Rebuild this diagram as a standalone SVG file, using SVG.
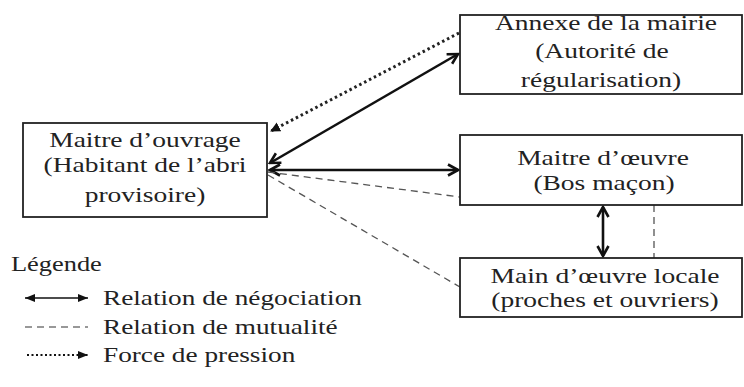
<svg xmlns="http://www.w3.org/2000/svg" width="744" height="387" viewBox="0 0 744 387">
<style>
  .box { fill: #fff; stroke: #222; stroke-width: 1.8; }
  .neg { stroke: #111; stroke-width: 2.6; fill: none; }
  .mut { stroke: #555; stroke-width: 1.3; stroke-dasharray: 7 5; fill: none; }
  .prs { stroke: #222; stroke-width: 3; stroke-dasharray: 2.5 3; fill: none; }
</style>
<defs>
  <marker id="chev" viewBox="0 0 14 14" refX="12" refY="7" markerWidth="14" markerHeight="14" markerUnits="userSpaceOnUse" orient="auto-start-reverse">
    <path d="M2,1.5 L12,7 L2,12.5" fill="none" stroke="#111" stroke-width="2.6"/>
  </marker>
  <marker id="tri" viewBox="0 0 10 8" refX="10" refY="4" markerWidth="10" markerHeight="8" markerUnits="userSpaceOnUse" orient="auto-start-reverse">
    <path d="M0,0 L10,4 L0,8 Z" fill="#111"/>
  </marker>
  <marker id="tri2" viewBox="0 0 10 10" refX="9" refY="5" markerWidth="10" markerHeight="10" markerUnits="userSpaceOnUse" orient="auto">
    <path d="M0,0 L10,5 L0,10 Z" fill="#111"/>
  </marker>
</defs>

<g id="connectors">
  <line class="prs" x1="459" y1="33" x2="271" y2="131" marker-end="url(#tri2)"/>
  <line class="neg" x1="270" y1="163" x2="458" y2="54" marker-start="url(#chev)" marker-end="url(#chev)"/>
  <line class="neg" x1="270" y1="170" x2="458" y2="170" marker-start="url(#chev)" marker-end="url(#chev)"/>
  <line class="mut" x1="268" y1="172" x2="460" y2="197"/>
  <line class="mut" x1="268" y1="175" x2="460" y2="287"/>
  <line class="neg" x1="603" y1="207" x2="603" y2="256" stroke-width="3" marker-start="url(#chev)" marker-end="url(#chev)"/>
  <line class="mut" x1="654" y1="205" x2="654" y2="258" stroke-dasharray="5 3"/>
</g>

<g id="maitre-ouvrage">
  <rect class="box" x="23" y="123" width="244" height="94"/>
  <text font-family="Liberation Serif" font-size="22" fill="#222" text-anchor="middle" x="116" y="147" transform="scale(1.25,1)">Maitre d’ouvrage</text>
  <text font-family="Liberation Serif" font-size="22" fill="#222" text-anchor="middle" x="116" y="172" transform="scale(1.25,1)">(Habitant de l’abri</text>
  <text font-family="Liberation Serif" font-size="22" fill="#222" text-anchor="middle" x="116" y="202" transform="scale(1.25,1)">provisoire)</text>
</g>

<g id="annexe-mairie">
  <rect class="box" x="460" y="15" width="282" height="79"/>
  <text font-family="Liberation Serif" font-size="22" fill="#222" text-anchor="middle" x="484.8" y="30" transform="scale(1.25,1)">Annexe de la mairie</text>
  <text font-family="Liberation Serif" font-size="22" fill="#222" text-anchor="middle" x="481.6" y="58" transform="scale(1.25,1)">(Autorité de</text>
  <text font-family="Liberation Serif" font-size="22" fill="#222" text-anchor="middle" x="480.8" y="87" transform="scale(1.25,1)">régularisation)</text>
</g>

<g id="maitre-oeuvre">
  <rect class="box" x="460" y="135" width="282" height="70"/>
  <text font-family="Liberation Serif" font-size="22" fill="#222" text-anchor="middle" x="482.4" y="165" transform="scale(1.25,1)">Maitre d’œuvre</text>
  <text font-family="Liberation Serif" font-size="22" fill="#222" text-anchor="middle" x="483.2" y="190" transform="scale(1.25,1)">(Bos maçon)</text>
</g>

<g id="main-oeuvre">
  <rect class="box" x="460" y="258" width="282" height="59"/>
  <text font-family="Liberation Serif" font-size="22" fill="#222" text-anchor="middle" x="484" y="283" transform="scale(1.25,1)">Main d’œuvre locale</text>
  <text font-family="Liberation Serif" font-size="22" fill="#222" text-anchor="middle" x="484" y="307" transform="scale(1.25,1)">(proches et ouvriers)</text>
</g>

<g id="legende">
  <text font-family="Liberation Serif" font-size="22" fill="#222" x="9.17" y="271" transform="scale(1.2,1)">Légende</text>
  <line x1="25" y1="298" x2="88" y2="298" stroke="#111" stroke-width="1.6" marker-start="url(#tri)" marker-end="url(#tri)"/>
  <text font-family="Liberation Serif" font-size="22" fill="#222" x="83.06" y="305" transform="scale(1.24,1)">Relation de négociation</text>
  <line x1="25" y1="327" x2="88" y2="327" stroke="#333" stroke-width="1.2" stroke-dasharray="7 5"/>
  <text font-family="Liberation Serif" font-size="22" fill="#222" x="83.06" y="334" transform="scale(1.24,1)">Relation de mutualité</text>
  <line x1="27" y1="355" x2="88" y2="355" stroke="#111" stroke-width="2" stroke-dasharray="2 2.5" marker-end="url(#tri)"/>
  <text font-family="Liberation Serif" font-size="22" fill="#222" x="83.06" y="362" transform="scale(1.24,1)">Force de pression</text>
</g>
</svg>
